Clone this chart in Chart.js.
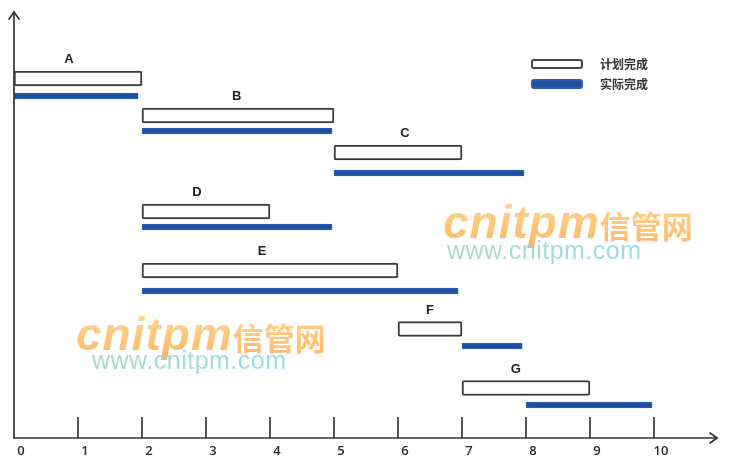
<!DOCTYPE html>
<html><head><meta charset="utf-8">
<script src="https://cdn.jsdelivr.net/npm/chart.js@4/dist/chart.umd.min.js"></script>
<style>
html,body{margin:0;padding:0;background:#fff;}
#wrap{position:relative;width:731px;height:465px;overflow:hidden;}
canvas{position:absolute;left:0;top:0;}
.wm{position:absolute;pointer-events:none;white-space:nowrap;opacity:0.88;}
.wm1{font-family:"Liberation Sans",Arial,sans-serif;font-weight:bold;font-style:italic;font-size:46px;letter-spacing:1px;
 background:linear-gradient(180deg,#ffd48a 0%,#ffaa50 100%);-webkit-background-clip:text;background-clip:text;color:transparent;}
.wm1 .cj{font-family:"Noto Sans CJK SC",sans-serif;font-style:normal;font-size:31px;font-weight:bold;letter-spacing:0;}
.wm2{font-family:"Liberation Sans",Arial,sans-serif;font-size:25px;letter-spacing:0.5px;
 background:linear-gradient(90deg,#9fd3bd 0%,#86d8ee 100%);-webkit-background-clip:text;background-clip:text;color:transparent;}
</style></head>
<body><div id="wrap">
<canvas id="c" width="731" height="465"></canvas>
<div class="wm wm1" style="left:443px;top:195px;">cnitpm<span class="cj">信管网</span></div>
<div class="wm wm2" style="left:447px;top:236px;">www.cnitpm.com</div>
<div class="wm wm1" style="left:76px;top:307px;">cnitpm<span class="cj">信管网</span></div>
<div class="wm wm2" style="left:92px;top:346px;">www.cnitpm.com</div>
</div>
<script>
const tasks = ['A','B','C','D','E','F','G'];
const plannedStart = [0, 2, 5, 2, 2, 6, 7];
const plannedEnd   = [2, 5, 7, 4, 6, 7, 9];
const actualStart  = [0, 2, 5, 2, 2, 7, 8];
const actualEnd    = [1.94, 4.97, 7.97, 4.97, 6.94, 7.94, 9.97];
const plannedRow   = [35.95, 32.25, 28.55, 22.65, 16.75, 10.9, 5.0];
const actualRow    = [34.2, 30.7, 26.5, 21.1, 14.7, 9.2, 3.3];
const labelX       = [0.86, 3.48, 6.11, 2.86, 3.875, 6.5, 7.84];
const xTickLabels  = ['0','1','2','3','4','5','6','7','8','9','10'];
const legendLabels = ['计划完成','实际完成'];

const AX = '#333333';
const BLUE = '#1e4f9f';

const plannedData = tasks.map((t,i)=>({x:[plannedStart[i], plannedEnd[i]], y: plannedRow[i]}));
const actualData  = tasks.map((t,i)=>({x:[actualStart[i], actualEnd[i]], y: actualRow[i]}));

const decor = {
  id:'decor',
  afterDatasetsDraw(chart){
    const ctx = chart.ctx, xs = chart.scales.x, ys = chart.scales.y;
    const x0 = xs.getPixelForValue(0), yb = ys.getPixelForValue(0);
    ctx.save();
    ctx.strokeStyle = AX; ctx.lineWidth = 1.7; ctx.lineCap='round'; ctx.lineJoin='round';
    // axes
    ctx.beginPath(); ctx.moveTo(x0, yb); ctx.lineTo(x0, 12); ctx.stroke();
    ctx.beginPath(); ctx.moveTo(x0-5, 19); ctx.lineTo(x0, 12); ctx.lineTo(x0+5, 19); ctx.stroke();
    ctx.beginPath(); ctx.moveTo(x0, yb); ctx.lineTo(717, yb); ctx.stroke();
    ctx.beginPath(); ctx.moveTo(710, yb-5); ctx.lineTo(717, yb); ctx.lineTo(710, yb+5); ctx.stroke();
    // tick marks and tick labels
    ctx.lineCap='butt';
    ctx.fillStyle = '#2a2a2a';
    ctx.font = '600 13px "Open Sans", sans-serif';
    ctx.textAlign='center'; ctx.textBaseline='middle';
    for (let i=0;i<xTickLabels.length;i++){
      const px = xs.getPixelForValue(Number(xTickLabels[i]));
      if (i>0){ ctx.beginPath(); ctx.moveTo(px, yb-21); ctx.lineTo(px, yb); ctx.stroke(); }
      ctx.fillText(xTickLabels[i], px + 7, yb + 13);
    }
    // task labels
    ctx.fillStyle = '#222';
    ctx.font = 'bold 13px "Liberation Sans", Arial, sans-serif';
    tasks.forEach((t,i)=>{
      ctx.fillText(t, xs.getPixelForValue(labelX[i]), ys.getPixelForValue(plannedRow[i]) - 19);
    });
    // legend
    ctx.lineWidth = 2;
    ctx.fillStyle='#fff'; ctx.strokeStyle='#444';
    ctx.beginPath(); ctx.roundRect(532, 60, 50, 8, 2); ctx.fill(); ctx.stroke();
    ctx.fillStyle=BLUE; ctx.strokeStyle='#2f5fb0';
    ctx.beginPath(); ctx.roundRect(532, 80, 50, 8, 2); ctx.fill(); ctx.stroke();
    ctx.fillStyle='#333';
    ctx.font = 'bold 12px "Noto Sans CJK SC", sans-serif';
    ctx.textAlign='left';
    ctx.fillText(legendLabels[0], 600, 64);
    ctx.fillText(legendLabels[1], 600, 84);
    ctx.restore();
  }
};

new Chart(document.getElementById('c'), {
  type:'bar',
  data:{
    datasets:[
      {label:legendLabels[0], data:plannedData, backgroundColor:'#ffffff', borderColor:'#3a3a3a', borderWidth:2, borderRadius:2, borderSkipped:false, barThickness:15},
      {label:legendLabels[1], data:actualData, backgroundColor:BLUE, borderColor:'#2f62b8', borderWidth:1, borderRadius:1, borderSkipped:false, barThickness:6}
    ]
  },
  options:{
    responsive:false, animation:false, indexAxis:'y',
    layout:{padding:{left:14, top:10, right:13, bottom:27}},
    datasets:{bar:{grouped:false}},
    plugins:{legend:{display:false}, tooltip:{enabled:false}},
    scales:{
      x:{type:'linear', min:0, max:11, display:false, offset:false},
      y:{type:'linear', min:0, max:42.8, display:false, offset:false}
    }
  },
  plugins:[decor]
});
</script>
</body></html>
